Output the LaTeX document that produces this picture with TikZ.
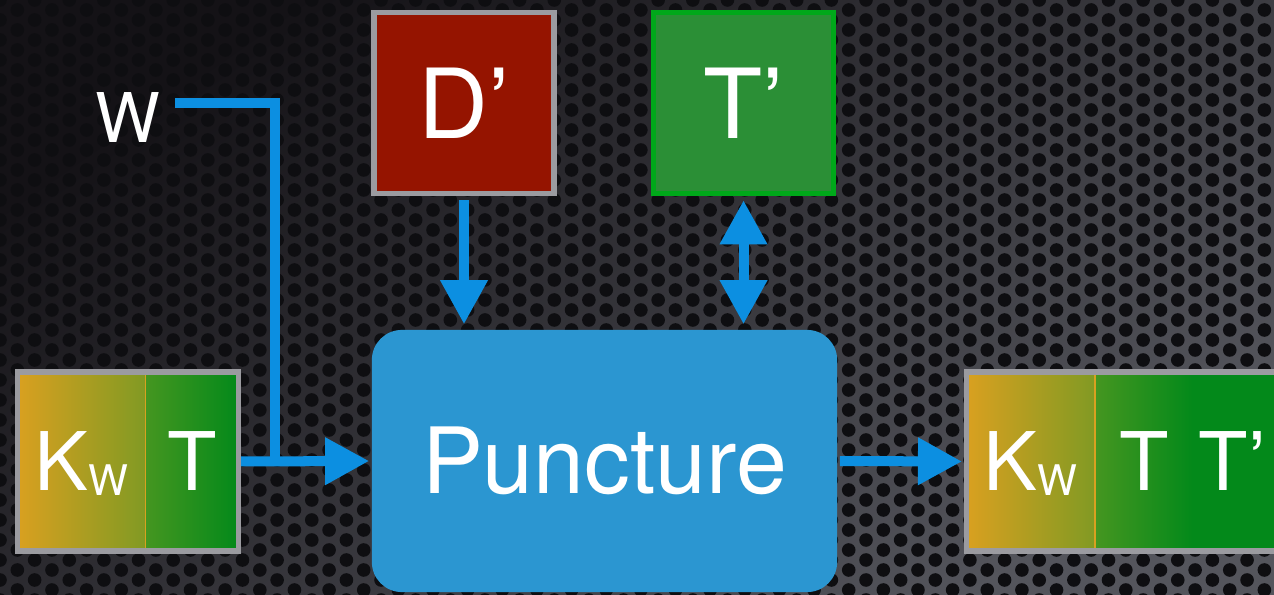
\documentclass[tikz,border=0pt]{standalone}
\usepackage{fontspec}
\setmainfont{TeX Gyre Heros}
\usepackage{xcolor}
\usetikzlibrary{arrows.meta, positioning}

\definecolor{metaldark}{HTML}{141216}
\definecolor{metallight}{HTML}{54555C}
\definecolor{holecol}{HTML}{0E0E11}
\definecolor{framegray}{HTML}{9B9BA0}
\definecolor{flowblue}{HTML}{0C8FE1}
\definecolor{puncblue}{HTML}{2B96D1}
\definecolor{dred}{HTML}{951400}
\definecolor{tgreen}{HTML}{2B8F36}
\definecolor{tedge}{HTML}{00A81A}
\definecolor{kworange}{HTML}{D9A020}
\definecolor{kwolive}{HTML}{819A23}
\definecolor{tlight}{HTML}{459620}
\definecolor{tdark}{HTML}{03891A}

% K with a small lowered W
\newcommand{\keyW}{K\raisebox{-0.05cm}[0pt][0pt]{\fontsize{12}{12}\selectfont W}}

\begin{document}
\begin{tikzpicture}[x=0.01cm, y=-0.01cm,
  frame/.style={draw=framegray, line width=0.055cm},
  cell/.style={rectangle, inner sep=0pt, outer sep=0pt,
               minimum height=1.79cm, text=white,
               font=\fontsize{23}{26}\selectfont},
  sq/.style={rectangle, line width=0.055cm, text=white,
             minimum width=1.8cm, minimum height=1.81cm,
             font=\fontsize{27.5}{30}\selectfont},
  proc/.style={rectangle, rounded corners=0.3cm, fill=puncblue, text=white,
               minimum width=4.65cm, minimum height=2.62cm,
               font=\fontsize{26}{30}\selectfont},
  wire/.style={flowblue, line width=0.1cm},
  arr/.style={wire, -{Triangle[length=0.44cm, width=0.45cm]}},
  darr/.style={wire, {Triangle[length=0.44cm, width=0.45cm]}-{Triangle[length=0.44cm, width=0.45cm]}}
]
%% perforated metal backdrop
\clip (0,0) rectangle (1274,595);
\shade[top color=metaldark, bottom color=metallight, shading angle=35] (0,0) rectangle (1274,595);
\foreach \i in {0,...,74}
  \foreach \j in {0,...,30}
    \fill[holecol] ({\i*17.32}, {\j*20+mod(\i,2)*10}) circle[radius=0.068cm];

%% TOP: inputs
\node[text=white, inner sep=0pt, font=\fontsize{19.5}{22}\selectfont] (w) at (128,118) {W};
\node[sq, draw=framegray, fill=dred]  (dp) at (464,103)   {D’};
\node[sq, draw=tedge,     fill=tgreen] (tp) at (743.5,103) {T’};

%% MIDDLE: puncture step
\node[proc] (punc) at (604.5,461) {Puncture};

%% LEFT: key + tag going in
\node[cell, minimum width=1.275cm, left color=kworange, right color=kwolive] (kw) at (81.25,461.5) {\keyW};
\node[cell, minimum width=0.935cm, left color=tlight, right color=tdark, right=0pt of kw] (t) {T};
\draw[kworange, line width=0.01cm] (kw.north east) -- (kw.south east);
\draw[frame] (kw.north west) rectangle (t.south east);

%% RIGHT: key + tags coming out
\node[cell, minimum width=1.285cm, left color=kworange, right color=kwolive] (kw2) at (1030.75,461.5) {\keyW};
\node[cell, minimum width=1.95cm, left color=tlight, right color=tdark, middle color=tdark, right=0pt of kw2] (tt) {T\hspace{0.3cm}T’};
\draw[kworange, line width=0.02cm] (kw2.north east) -- (kw2.south east);
\draw[frame] (kw2.north west) rectangle (tt.south east);

%% connectors
\coordinate (merge) at (275,461.5);
\draw[wire] ([shift={(14,-15)}]w.east) -| (merge);
\draw[arr, shorten <=0.025cm, shorten >=0.02cm] (t.east) -- (punc.west);
\draw[arr, shorten <=0.04cm, shorten >=0.05cm] (dp.south) -- (dp.south |- punc.north);
\draw[darr, shorten <=0.04cm, shorten >=0.05cm] (tp.south) -- (tp.south |- punc.north);
\draw[arr, shorten <=0.02cm, shorten >=0.045cm] (punc.east) -- (kw2.west);
\end{tikzpicture}
\end{document}
